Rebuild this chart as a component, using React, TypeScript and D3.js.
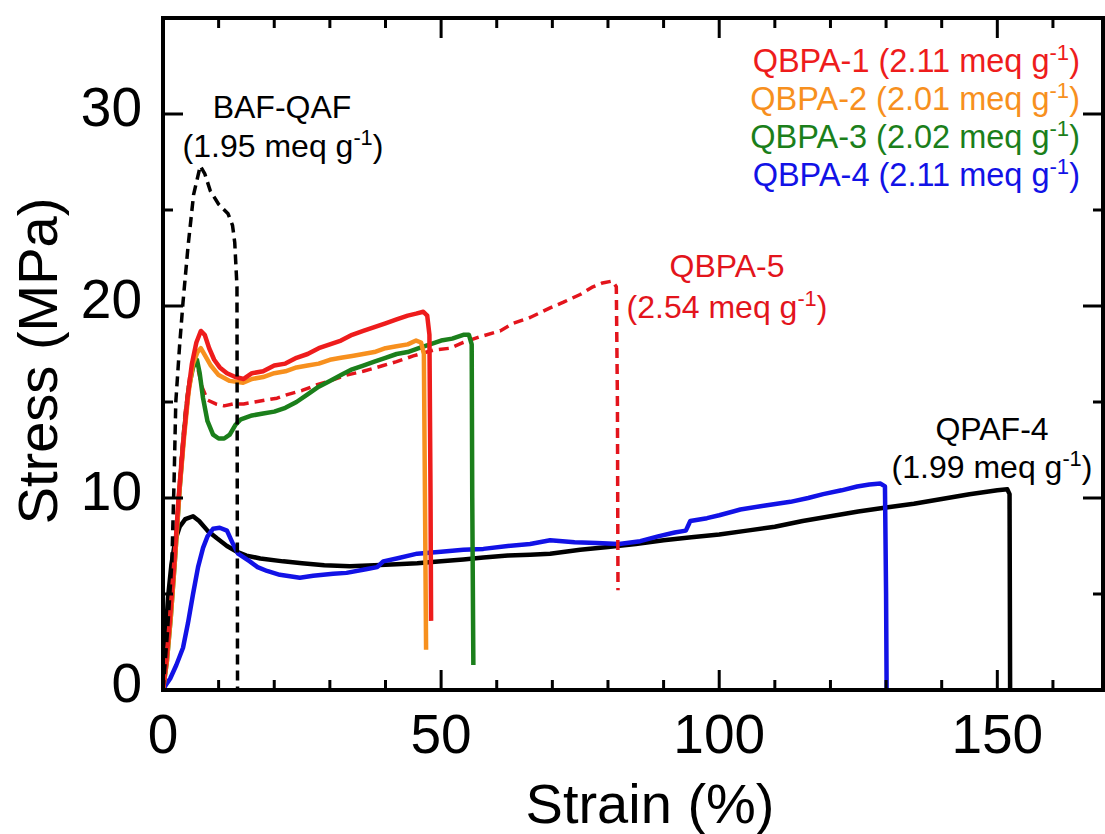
import React from 'react'
import * as d3 from 'd3'

// strain (%) vs stress (MPa)
const qpaf4: [number, number][] = [
  [0, 0], [0.4, 2.5], [0.9, 4.8], [1.5, 6.5], [2.2, 7.8], [3.0, 8.5], [4.0, 8.9], [5.4, 9.05], [6.5, 8.8],
  [8.0, 8.3], [9.7, 7.9], [11.5, 7.5], [13.3, 7.2], [15, 7.0], [17.5, 6.85], [21.6, 6.7], [25, 6.6],
  [29, 6.5], [33.6, 6.45], [38, 6.5], [42, 6.55], [45.7, 6.6], [50, 6.7], [54, 6.8], [57.6, 6.9],
  [62, 7.0], [66, 7.05], [69.6, 7.1], [75, 7.3], [80, 7.45], [85, 7.6], [90, 7.8], [95, 7.95],
  [100, 8.1], [105, 8.3], [110, 8.5], [115, 8.8], [120, 9.05], [125, 9.3], [130, 9.5], [135, 9.7],
  [140, 9.95], [145, 10.2], [150, 10.4], [151.8, 10.45], [152.2, 10.2], [152.3, 0],
]
const qbpa4: [number, number][] = [
  [0, 0], [0.6, 0.3], [1.3, 0.6], [2.4, 1.3], [3.6, 2.2], [4.5, 3.5], [5.4, 5.0], [6.3, 6.4], [7.2, 7.4],
  [8.0, 8.0], [9.0, 8.4], [10.2, 8.45], [11.5, 8.3], [12.6, 7.6], [13.5, 7.1], [15.6, 6.7], [17, 6.4],
  [18.7, 6.2], [21, 6.0], [24.6, 5.85], [27, 5.95], [30.6, 6.05], [33, 6.1], [36.7, 6.3], [38.5, 6.4],
  [39.6, 6.7], [42, 6.85], [45.7, 7.1], [50, 7.2], [54, 7.3], [57.6, 7.35], [62, 7.5], [66, 7.6],
  [69.6, 7.8], [74, 7.7], [78, 7.65], [82, 7.6], [85.8, 7.75], [89, 8.0], [92, 8.2], [94, 8.3],
  [94.8, 8.8], [97.8, 8.95], [100, 9.1], [103.8, 9.4], [108, 9.6], [112.8, 9.8], [116, 10.0],
  [118.7, 10.2], [122, 10.4], [124.8, 10.6], [127, 10.7], [129, 10.75], [129.8, 10.6], [130.0, 5], [130.1, 0],
]
const qbpa5: [number, number][] = [
  [0, 0], [0.8, 2], [1.6, 5], [2.4, 8.5], [3.2, 11.8], [4.0, 14.5], [4.8, 16.3], [5.6, 17.0], [6.3, 16.7],
  [7.0, 15.8], [8.0, 15.1], [9.5, 14.9], [11, 14.8], [12.6, 14.9], [14.5, 14.9], [16.5, 15.0], [18.5, 15.1],
  [20.5, 15.2], [22.5, 15.4], [25, 15.6], [27.7, 15.9], [30, 16.1], [33, 16.4], [36, 16.6], [39.6, 16.9],
  [42, 17.1], [45, 17.4], [48.6, 17.7], [51.6, 17.8], [54, 18.1], [57, 18.4], [60.6, 18.7], [63, 19.1],
  [66, 19.4], [69.6, 19.9], [72, 20.2], [75, 20.6], [77.3, 21.0], [79, 21.2], [80.8, 21.3], [81.5, 21.0],
  [81.7, 15], [81.8, 5.2],
]
const qbpa3: [number, number][] = [
  [0, 0], [0.7, 1.5], [1.4, 3.8], [2.2, 7], [3.0, 10.5], [3.8, 13.5], [4.6, 15.7], [5.4, 16.8], [6.1, 17.2],
  [6.6, 16.5], [7.2, 15.2], [8.0, 14.0], [9.0, 13.3], [10.0, 13.1], [11.0, 13.1], [12.0, 13.3], [13.0, 13.8],
  [14.0, 14.1], [16, 14.3], [18, 14.4], [20, 14.5], [22, 14.7], [24, 15.0], [26, 15.4], [28, 15.8],
  [30, 16.1], [32, 16.4], [34, 16.7], [36, 16.9], [38, 17.1], [40, 17.3], [42, 17.5], [44, 17.6],
  [46, 17.8], [48, 18.0], [50, 18.2], [52, 18.3], [54, 18.5], [55, 18.5], [55.5, 18.0], [55.6, 10], [55.8, 1.3],
]
const qbpa2: [number, number][] = [
  [0, 0], [0.7, 1.5], [1.4, 3.8], [2.2, 7], [3.0, 10.5], [3.8, 13.2], [4.6, 15.5], [5.4, 17.0], [6.2, 17.6],
  [6.8, 17.8], [7.6, 17.4], [8.6, 16.9], [10, 16.4], [12, 16.1], [14.4, 16.0], [16, 16.2], [18, 16.3],
  [20, 16.5], [22, 16.6], [24, 16.8], [26, 16.9], [28, 17.0], [30, 17.2], [32, 17.3], [34, 17.4],
  [36, 17.5], [38, 17.6], [40, 17.8], [42, 17.9], [44, 18.0], [45.5, 18.2], [46.4, 18.1], [46.9, 17.5],
  [47.1, 10], [47.3, 2.1],
]
const qbpa1: [number, number][] = [
  [0, 0], [0.6, 1.5], [1.2, 3.5], [2.0, 6.5], [2.8, 10], [3.6, 12.8], [4.4, 15.2], [5.2, 17.0], [6.0, 18.1],
  [6.8, 18.7], [7.5, 18.5], [8.3, 17.8], [9.2, 17.2], [10.2, 16.8], [11.5, 16.5], [13.0, 16.3], [14.5, 16.2],
  [16, 16.5], [18, 16.6], [20, 16.9], [22, 17.0], [24, 17.3], [26, 17.5], [28, 17.8], [30, 18.0],
  [32, 18.2], [34, 18.5], [36, 18.7], [38, 18.9], [40, 19.1], [42, 19.3], [44, 19.5], [45.5, 19.6],
  [46.8, 19.7], [47.5, 19.5], [47.9, 18.5], [48.1, 10], [48.2, 3.6],
]
const bafqaf: [number, number][] = [
  [0, 0], [0.8, 3], [1.6, 6.7], [2.0, 11], [2.3, 15.0], [3.0, 18], [3.6, 20.2], [4.5, 23.1], [5.5, 25.8],
  [6.7, 27.3], [7.5, 26.9], [8.5, 26.0], [10, 25.3], [11.7, 24.8], [12.5, 24.2], [12.9, 23.3], [13.3, 21.0],
  [13.4, 0],
]

const series = [
  { name: 'QPAF-4', data: qpaf4, color: '#000000', dash: false },
  { name: 'QBPA-4', data: qbpa4, color: '#1212e6', dash: false },
  { name: 'QBPA-5', data: qbpa5, color: '#e3141c', dash: true },
  { name: 'QBPA-3', data: qbpa3, color: '#1b7f1b', dash: false },
  { name: 'QBPA-2', data: qbpa2, color: '#f7901e', dash: false },
  { name: 'QBPA-1', data: qbpa1, color: '#ee1c1c', dash: false },
  { name: 'BAF-QAF', data: bafqaf, color: '#000000', dash: true },
]

const legendItems = [
  { label: 'QBPA-1 (2.11 meq g', color: '#ee1c1c' },
  { label: 'QBPA-2 (2.01 meq g', color: '#f7901e' },
  { label: 'QBPA-3 (2.02 meq g', color: '#1b7f1b' },
  { label: 'QBPA-4 (2.11 meq g', color: '#1212e6' },
]

const xTicks = [0, 50, 100, 150]
const yTicks = [0, 10, 20, 30]

const W = 1105
const H = 834
const FONT = '"Liberation Sans", Arial, sans-serif'

const Sup = ({ fs }: { fs: number }) => (
  <>
    <tspan dy={-fs * 0.36} fontSize={fs * 0.68}>-1</tspan>
    <tspan dy={fs * 0.36}>)</tspan>
  </>
)

export default function App() {
  const x = d3.scaleLinear().domain([0, 169]).range([163, 1103])
  const y = d3.scaleLinear().domain([0, 35]).range([690, 18])
  const line = d3.line<[number, number]>().x((d) => x(d[0])).y((d) => y(d[1]))

  const [x0, x1] = x.range()
  const [y0, y1] = y.range()
  const xMinor = d3.range(0, 170, 10)
  const yMinor = d3.range(0, 36, 5)

  return (
    <svg width={W} height={H} style={{ position: 'absolute', left: 0, top: 0, background: '#fff' }} fontFamily={FONT}>
      <defs>
        <clipPath id="plot">
          <rect x={x0} y={y1} width={x1 - x0} height={y0 - y1} />
        </clipPath>
      </defs>

      <g clipPath="url(#plot)">
        {series.map((s) => (
          <path
            key={s.name}
            d={line(s.data) || ''}
            fill="none"
            stroke={s.color}
            strokeWidth={s.dash ? 3.5 : 4.5}
            strokeDasharray={s.dash ? '10 6' : undefined}
            strokeLinejoin="round"
          />
        ))}
      </g>

      {/* ticks, inward on all four sides */}
      <g stroke="#000" strokeWidth={3}>
        {xMinor.map((t) => {
          const len = t % 50 === 0 ? 20 : 10
          return (
            <g key={'x' + t}>
              <line x1={x(t)} x2={x(t)} y1={y0} y2={y0 - len} />
              <line x1={x(t)} x2={x(t)} y1={y1} y2={y1 + len} />
            </g>
          )
        })}
        {yMinor.map((t) => {
          const len = t % 10 === 0 ? 20 : 10
          return (
            <g key={'y' + t}>
              <line x1={x0} x2={x0 + len} y1={y(t)} y2={y(t)} />
              <line x1={x1} x2={x1 - len} y1={y(t)} y2={y(t)} />
            </g>
          )
        })}
      </g>
      <rect x={x0} y={y1} width={x1 - x0} height={y0 - y1} fill="none" stroke="#000" strokeWidth={4} />

      {/* tick labels */}
      <g fontSize={55} fill="#000">
        {xTicks.map((t) => (
          <text key={t} x={x(t)} y={753} textAnchor="middle">{t}</text>
        ))}
        {yTicks.map((t) => (
          <text key={t} x={142} y={y(t) + 12} textAnchor="end">{t}</text>
        ))}
      </g>

      {/* axis titles */}
      <text x={650} y={823} fontSize={56} textAnchor="middle">Strain (%)</text>
      <text transform="translate(57,361) rotate(-90)" fontSize={56} textAnchor="middle">Stress (MPa)</text>

      {/* curve annotations */}
      <g fontSize={32}>
        <text x={282} y={118} textAnchor="middle">BAF-QAF</text>
        <text x={283} y={157} textAnchor="middle">(1.95 meq g<Sup fs={32} /></text>
        <text x={727} y={277} textAnchor="middle" fill="#e3141c">QBPA-5</text>
        <text x={727} y={318} textAnchor="middle" fill="#e3141c">(2.54 meq g<Sup fs={32} /></text>
        <text x={992} y={440} textAnchor="middle">QPAF-4</text>
        <text x={992} y={478} textAnchor="middle">(1.99 meq g<Sup fs={32} /></text>
      </g>

      <g fontSize={32.5}>
        {legendItems.map((l, i) => (
          <text key={l.label} x={1080} y={72 + i * 38} textAnchor="end" fill={l.color}>
            {l.label}
            <Sup fs={32.5} />
          </text>
        ))}
      </g>
    </svg>
  )
}
